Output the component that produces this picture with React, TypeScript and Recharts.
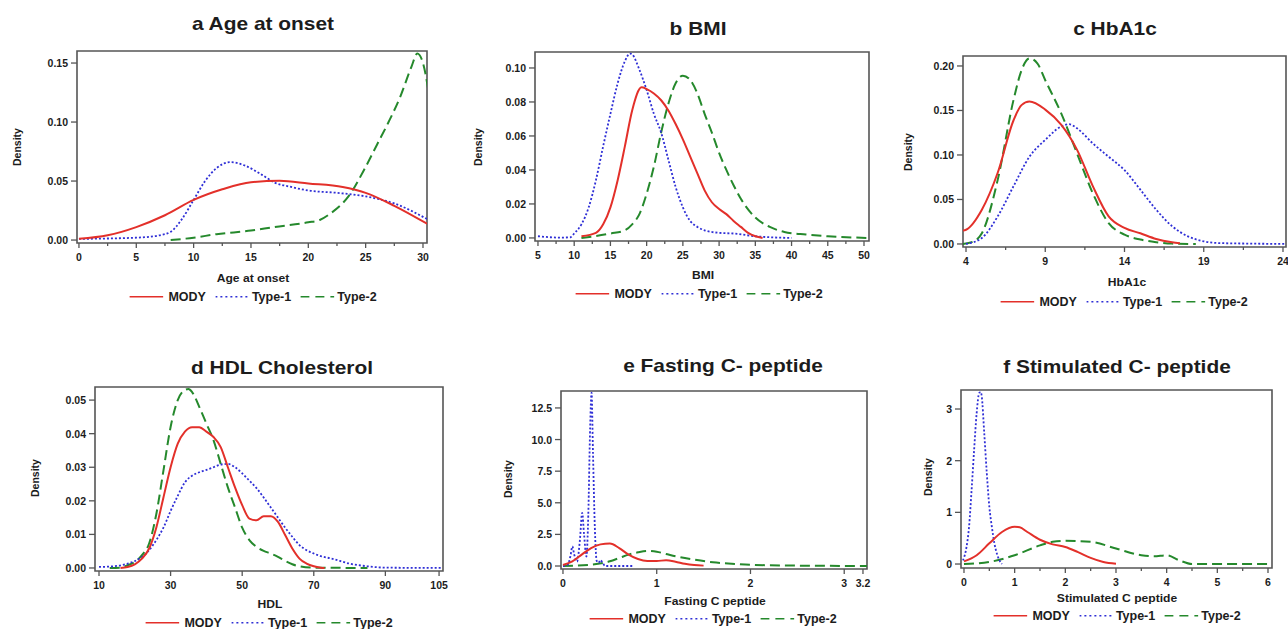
import React from 'react';
import { LineChart, Line, XAxis, YAxis, ReferenceArea } from 'recharts';

type Pt = [number, number];

// ---------- a Age at onset ----------
const ageMody: Pt[] = [[0,0.001],[2.5,0.004],[5,0.011],[7.5,0.021],[10,0.034],[12.5,0.043],[15,0.049],[17.5,0.0502],[20,0.048],[23,0.045],[25,0.040],[27.5,0.029],[30.5,0.013]];
const ageType1: Pt[] = [[0,0.001],[5,0.002],[7,0.004],[8,0.007],[9,0.018],[10,0.034],[11,0.050],[12,0.061],[13.2,0.066],[14.5,0.063],[16,0.055],[17,0.049],[18.5,0.045],[20,0.042],[22.5,0.040],[25,0.037],[27.5,0.031],[30.5,0.017]];
const ageType2: Pt[] = [[8,0],[10,0.002],[12,0.005],[15,0.008],[17,0.011],[20,0.015],[21,0.017],[22,0.023],[23.5,0.037],[25,0.062],[26,0.081],[27,0.100],[28,0.121],[29,0.147],[29.5,0.158],[30,0.150],[30.5,0.125]];
const ageXTicks = [0,5,10,15,20,25,30];
const ageXMinor = [2.5,7.5,12.5,17.5,22.5,27.5];
const ageYTicks = [0,0.05,0.10,0.15];

// ---------- b BMI ----------
const bmiMody: Pt[] = [[11,0.001],[13,0.003],[14,0.008],[15,0.018],[16,0.034],[17,0.054],[18,0.075],[19.3,0.0886],[20,0.0876],[21,0.085],[22,0.081],[23,0.075],[24,0.067],[25,0.058],[26,0.048],[27,0.038],[28,0.028],[29,0.021],[30,0.017],[31,0.014],[32,0.010],[33,0.0065],[34,0.003],[35,0.001],[36,0]];
const bmiType1: Pt[] = [[5,0.001],[8,0.0002],[9.5,0.0004],[10,0.0026],[11,0.008],[12,0.018],[13,0.034],[14,0.054],[15,0.073],[16,0.091],[17,0.104],[17.7,0.1085],[18,0.108],[19,0.099],[20,0.087],[21,0.073],[22,0.062],[23,0.046],[24,0.030],[25,0.018],[26,0.010],[27,0.0065],[28,0.0045],[30,0.003],[32,0.0026],[35,0.001],[40,0]];
const bmiType2: Pt[] = [[11,0],[15,0.0026],[17,0.0045],[18,0.008],[19,0.014],[20,0.026],[21,0.042],[22,0.062],[23,0.079],[24,0.091],[25,0.0955],[26,0.093],[27,0.085],[28,0.073],[29,0.062],[30,0.050],[31,0.040],[32,0.031],[33,0.023],[35,0.012],[37,0.0065],[39,0.0035],[42,0.002],[45,0.001],[50.5,0]];
const bmiXTicks = [5,10,15,20,25,30,35,40,45,50];
const bmiXMinor = [7.5,12.5,17.5,22.5,27.5,32.5,37.5,42.5,47.5];
const bmiYTicks = [0,0.02,0.04,0.06,0.08,0.10];

// ---------- c HbA1c ----------
const hbaMody: Pt[] = [[3.8,0.015],[4,0.016],[5,0.0385],[6,0.080],[7,0.139],[7.5,0.156],[8,0.160],[9,0.151],[10,0.134],[11,0.106],[12,0.065],[13,0.031],[14,0.018],[15,0.012],[16,0.0056],[17,0.0019],[17.5,0.0007]];
const hbaType1: Pt[] = [[4,0],[5,0.0067],[6,0.031],[7,0.065],[8,0.098],[9,0.117],[10,0.132],[10.5,0.1346],[11,0.130],[12,0.113],[13,0.098],[14,0.083],[15,0.061],[16,0.0385],[17,0.020],[18,0.0086],[19,0.003],[20,0.001],[22,0.0004],[24.2,0]];
const hbaType2: Pt[] = [[3.8,0],[4.5,0.003],[5,0.012],[6,0.072],[7,0.162],[7.5,0.195],[8,0.2085],[8.5,0.203],[9,0.184],[10,0.147],[11,0.102],[12,0.057],[13,0.0235],[14,0.0105],[15,0.005],[16,0.002],[17,0.0004],[18.5,0]];
const hbaXTicks = [4,9,14,19,24];
const hbaXMinor = [6.5,11.5,16.5,21.5];
const hbaYTicks = [0,0.05,0.10,0.15,0.20];

// ---------- d HDL Cholesterol ----------
const hdlMody: Pt[] = [[16,0],[18,0.0003],[20,0.0011],[22,0.0028],[24,0.0058],[26,0.012],[28,0.021],[30,0.030],[32,0.037],[34,0.0406],[36,0.0419],[38,0.0419],[40,0.0406],[42,0.039],[44,0.036],[46,0.030],[48,0.024],[50,0.0187],[52,0.0147],[54,0.0142],[56,0.0154],[58,0.0154],[60,0.0137],[62,0.0098],[64,0.0058],[66,0.0028],[68,0.0013],[70,0.0005],[72,0.0001],[73,0]];
const hdlType1: Pt[] = [[10,0.0003],[14,0.0005],[18,0.0013],[22,0.0033],[24,0.0053],[26,0.0083],[28,0.012],[30,0.017],[32,0.0215],[34,0.0255],[36,0.0275],[38,0.0285],[40,0.0292],[42,0.0300],[44,0.0308],[46,0.0310],[48,0.0300],[50,0.0282],[52,0.026],[54,0.0238],[56,0.021],[58,0.018],[60,0.015],[62,0.012],[64,0.0093],[66,0.0068],[68,0.0053],[70,0.0043],[72,0.0035],[75,0.0028],[80,0.0013],[85,0.0005],[90,0.0001],[106,0]];
const hdlType2: Pt[] = [[13,0],[16,0.0001],[18,0.0008],[20,0.0018],[22,0.0038],[24,0.0073],[26,0.016],[28,0.029],[30,0.042],[32,0.050],[34,0.053],[35,0.0533],[36,0.0524],[38,0.048],[40,0.043],[42,0.038],[44,0.031],[46,0.024],[48,0.018],[50,0.012],[52,0.0083],[54,0.0063],[56,0.0051],[58,0.0043],[60,0.0033],[62,0.0021],[64,0.0011],[66,0.0005],[70,0.0001],[85,0]];
const hdlXTicks = [10,30,50,70,90,105];
const hdlXMinor: number[] = [];
const hdlYTicks = [0,0.01,0.02,0.03,0.04,0.05];

// ---------- e Fasting C- peptide ----------
const fcpMody: Pt[] = [[0,0.08],[0.1,0.37],[0.2,0.9],[0.3,1.42],[0.4,1.71],[0.5,1.77],[0.6,1.42],[0.7,0.9],[0.8,0.55],[0.9,0.4],[1.0,0.4],[1.1,0.45],[1.2,0.34],[1.3,0.18],[1.4,0.08],[1.5,0.03]];
const fcpType1: Pt[] = [[0,0],[0.05,0.1],[0.08,0.8],[0.1,1.55],[0.12,0.9],[0.15,0.35],[0.18,2.0],[0.205,4.2],[0.225,2.5],[0.25,0.75],[0.27,4.0],[0.29,11],[0.305,13.7],[0.32,9],[0.34,3],[0.36,0.4],[0.38,0.25],[0.4,0.47],[0.42,0.3],[0.45,0],[0.75,0]];
const fcpType2: Pt[] = [[0,0],[0.3,0.1],[0.5,0.37],[0.6,0.63],[0.7,0.9],[0.8,1.08],[0.9,1.19],[1.0,1.13],[1.1,0.95],[1.2,0.77],[1.4,0.5],[1.6,0.29],[1.8,0.18],[2.0,0.1],[2.5,0.03],[3.25,0]];
const fcpXTicks = [0,1,2,3,3.2];
const fcpXMinor: number[] = [];
const fcpYTicks = [0,2.5,5,7.5,10,12.5];

// ---------- f Stimulated C- peptide ----------
const scpMody: Pt[] = [[0,0.05],[0.25,0.17],[0.5,0.40],[0.75,0.62],[1.0,0.72],[1.1,0.71],[1.25,0.62],[1.5,0.47],[1.75,0.38],[2.0,0.33],[2.25,0.23],[2.5,0.12],[2.75,0.04],[3.0,0.006]];
const scpType1: Pt[] = [[-0.02,0.07],[0.05,0.33],[0.1,0.72],[0.15,1.43],[0.2,2.21],[0.25,2.92],[0.3,3.31],[0.33,3.33],[0.35,3.25],[0.4,2.53],[0.45,1.76],[0.5,1.11],[0.55,0.72],[0.6,0.40],[0.65,0.2],[0.7,0.07],[0.75,0]];
const scpType2: Pt[] = [[0,0],[0.5,0.04],[1.0,0.17],[1.5,0.36],[1.75,0.43],[2.0,0.45],[2.5,0.43],[3.0,0.30],[3.5,0.17],[3.75,0.15],[4.0,0.17],[4.25,0.07],[4.5,0],[6.1,0]];
const scpXTicks = [0,1,2,3,4,5,6];
const scpXMinor = [0.5,1.5,2.5,3.5,4.5,5.5];
const scpYTicks = [0,1,2,3];

const RED = '#e3302a';
const BLUE = '#2f2fd6';
const GREEN = '#25892c';
const INK = '#1c1c1c';
const FRAME = '#555555';
const FONT = '"Liberation Sans", Arial, Helvetica, sans-serif';

const toData = (pts: Pt[]) => pts.map(([x, y]) => ({ x, y }));

interface Frame { l: number; r: number; t: number; b: number; }
interface PanelCfg {
  title: string; xLabel: string; frame: Frame;
  xDomain: [number, number]; yDomain: [number, number];
  xTicks: number[]; xMinor: number[]; yTicks: number[]; yDigits: number;
  mody: Pt[]; type1: Pt[]; type2: Pt[];
  titlePos: [number, number]; densityPos: [number, number];
  xLabelPos: [number, number]; legendPos: [number, number];
}

const panels: PanelCfg[] = [
  { title: 'a Age at onset', xLabel: 'Age at onset', frame: { l: 77, r: 427, t: 51, b: 243 },
    xDomain: [-0.17, 30.35], yDomain: [-0.0025, 0.1602], xTicks: ageXTicks, xMinor: ageXMinor, yTicks: ageYTicks, yDigits: 2,
    mody: ageMody, type1: ageType1, type2: ageType2,
    titlePos: [263, 23], densityPos: [17, 147], xLabelPos: [253, 278], legendPos: [253, 297] },
  { title: 'b BMI', xLabel: 'BMI', frame: { l: 535, r: 869, t: 52, b: 241 },
    xDomain: [4.59, 50.69], yDomain: [-0.0018, 0.1094], xTicks: bmiXTicks, xMinor: bmiXMinor, yTicks: bmiYTicks, yDigits: 2,
    mody: bmiMody, type1: bmiType1, type2: bmiType2,
    titlePos: [698, 28], densityPos: [478, 147], xLabelPos: [703, 275], legendPos: [699, 294] },
  { title: 'c HbA1c', xLabel: 'HbA1c', frame: { l: 963, r: 1286, t: 56, b: 247 },
    xDomain: [3.81, 24.19], yDomain: [-0.0034, 0.2112], xTicks: hbaXTicks, xMinor: hbaXMinor, yTicks: hbaYTicks, yDigits: 2,
    mody: hbaMody, type1: hbaType1, type2: hbaType2,
    titlePos: [1115, 28], densityPos: [908, 152], xLabelPos: [1127, 282], legendPos: [1124, 302] },
  { title: 'd HDL Cholesterol', xLabel: 'HDL', frame: { l: 95, r: 443, t: 387, b: 571 },
    xDomain: [8.88, 106.1], yDomain: [-0.0009, 0.0539], xTicks: hdlXTicks, xMinor: hdlXMinor, yTicks: hdlYTicks, yDigits: 2,
    mody: hdlMody, type1: hdlType1, type2: hdlType2,
    titlePos: [282, 367], densityPos: [35, 478], xLabelPos: [270, 604], legendPos: [269, 623] },
  { title: 'e Fasting C- peptide', xLabel: 'Fasting C peptide', frame: { l: 561, r: 867, t: 391, b: 569 },
    xDomain: [-0.021, 3.243], yDomain: [-0.237, 13.84], xTicks: fcpXTicks, xMinor: fcpXMinor, yTicks: fcpYTicks, yDigits: 1,
    mody: fcpMody, type1: fcpType1, type2: fcpType2,
    titlePos: [723, 365], densityPos: [508, 479], xLabelPos: [715, 601], legendPos: [713, 619] },
  { title: 'f Stimulated C- peptide', xLabel: 'Stimulated C peptide', frame: { l: 961, r: 1272, t: 390, b: 568 },
    xDomain: [-0.059, 6.079], yDomain: [-0.077, 3.368], xTicks: scpXTicks, xMinor: scpXMinor, yTicks: scpYTicks, yDigits: 0,
    mody: scpMody, type1: scpType1, type2: scpType2,
    titlePos: [1117, 366], densityPos: [928, 477], xLabelPos: [1117, 598], legendPos: [1117, 616] },
];

const Y_W = 60;
const X_H = 30;
const M_T = 4;
const M_R = 14;

const fmtX = (v: number) => String(v);

function Panel({ cfg }: { cfg: PanelCfg }) {
  const { frame } = cfg;
  const w = frame.r - frame.l + Y_W + M_R;
  const h = frame.b - frame.t + X_H + M_T;
  const allX = [...cfg.xTicks, ...cfg.xMinor].sort((a, b) => a - b);
  const xTick = (p: any) => {
    const v = p.payload.value;
    const major = cfg.xTicks.includes(v);
    return (
      <g>
        <line x1={p.x} x2={p.x} y1={p.y} y2={p.y + (major ? 5 : 3)} stroke={FRAME} strokeWidth={1.3} />
        {major && (
          <text x={p.x} y={p.y + 14} textAnchor="middle" dominantBaseline="central"
            fontFamily={FONT} fontWeight="bold" fontSize={10.5} fill={INK}>{fmtX(v)}</text>
        )}
      </g>
    );
  };
  const yTick = (p: any) => {
    const v = p.payload.value;
    return (
      <g>
        <line x1={p.x - 6} x2={p.x} y1={p.y} y2={p.y} stroke={FRAME} strokeWidth={1.3} />
        <text x={p.x - 9} y={p.y} textAnchor="end" dominantBaseline="central"
          fontFamily={FONT} fontWeight="bold" fontSize={10.5} fill={INK}>{v.toFixed(cfg.yDigits)}</text>
      </g>
    );
  };
  return (
    <div style={{ position: 'absolute', left: frame.l - Y_W, top: frame.t - M_T, width: w, height: h }}>
      <LineChart width={w} height={h} margin={{ top: M_T, right: M_R, left: 0, bottom: 0 }}>
        <XAxis type="number" dataKey="x" domain={cfg.xDomain} ticks={allX} interval={0}
          allowDataOverflow axisLine={false} tickLine={false} tickSize={0} tickMargin={0} height={X_H} tick={xTick} />
        <YAxis type="number" dataKey="y" domain={cfg.yDomain} ticks={cfg.yTicks} interval={0}
          allowDataOverflow axisLine={false} tickLine={false} tickSize={0} tickMargin={0} width={Y_W} tick={yTick} />
        <Line data={toData(cfg.type2)} dataKey="y" type="monotone" stroke={GREEN} strokeWidth={2}
          strokeDasharray="10 5" dot={false} activeDot={false} isAnimationActive={false} />
        <Line data={toData(cfg.type1)} dataKey="y" type="monotone" stroke={BLUE} strokeWidth={1.8}
          strokeDasharray="2 2" dot={false} activeDot={false} isAnimationActive={false} />
        <Line data={toData(cfg.mody)} dataKey="y" type="monotone" stroke={RED} strokeWidth={2}
          dot={false} activeDot={false} isAnimationActive={false} />
        <ReferenceArea x1={cfg.xDomain[0]} x2={cfg.xDomain[1]} y1={cfg.yDomain[0]} y2={cfg.yDomain[1]}
          fill="none" fillOpacity={0} stroke={FRAME} strokeWidth={1.6} ifOverflow="visible" />
      </LineChart>
    </div>
  );
}

const abs = (cx: number, cy: number, extra: React.CSSProperties = {}): React.CSSProperties => ({
  position: 'absolute', left: cx, top: cy, transform: 'translate(-50%, -50%)', whiteSpace: 'nowrap',
  fontFamily: FONT, fontWeight: 'bold', color: INK, lineHeight: 1, ...extra,
});

function Sample({ color, dash, width }: { color: string; dash?: string; width: number }) {
  return (
    <svg width={34} height={6} style={{ display: 'block' }}>
      <line x1={0} x2={34} y1={3} y2={3} stroke={color} strokeWidth={width} strokeDasharray={dash} />
    </svg>
  );
}

function Legend({ pos }: { pos: [number, number] }) {
  const item: React.CSSProperties = { display: 'flex', alignItems: 'center' };
  return (
    <div style={{ ...abs(pos[0], pos[1], { fontSize: 12.5 }), display: 'flex', alignItems: 'center', gap: 9 }}>
      <div style={item}><Sample color={RED} width={1.3} /><span style={{ marginLeft: 5 }}>MODY</span></div>
      <div style={item}><Sample color={BLUE} width={1.3} dash="2 3" /><span style={{ marginLeft: 3 }}>Type-1</span></div>
      <div style={item}><Sample color={GREEN} width={1.3} dash="9 6" /><span style={{ marginLeft: 3 }}>Type-2</span></div>
    </div>
  );
}

export default function App() {
  return (
    <div style={{ position: 'absolute', left: 0, top: 0, width: 1288, height: 629, overflow: 'hidden', background: '#ffffff' }}>
      {panels.map((cfg) => (
        <React.Fragment key={cfg.title}>
          <div style={abs(cfg.titlePos[0], cfg.titlePos[1], { fontSize: 19, transform: 'translate(-50%, -50%) scaleX(1.1)' })}>{cfg.title}</div>
          <Panel cfg={cfg} />
          <div style={abs(cfg.densityPos[0], cfg.densityPos[1], { fontSize: 10.5, transform: 'translate(-50%, -50%) rotate(-90deg)' })}>Density</div>
          <div style={abs(cfg.xLabelPos[0], cfg.xLabelPos[1], { fontSize: 11, transform: 'translate(-50%, -50%) scaleX(1.1)' })}>{cfg.xLabel}</div>
          <Legend pos={cfg.legendPos} />
        </React.Fragment>
      ))}
    </div>
  );
}
